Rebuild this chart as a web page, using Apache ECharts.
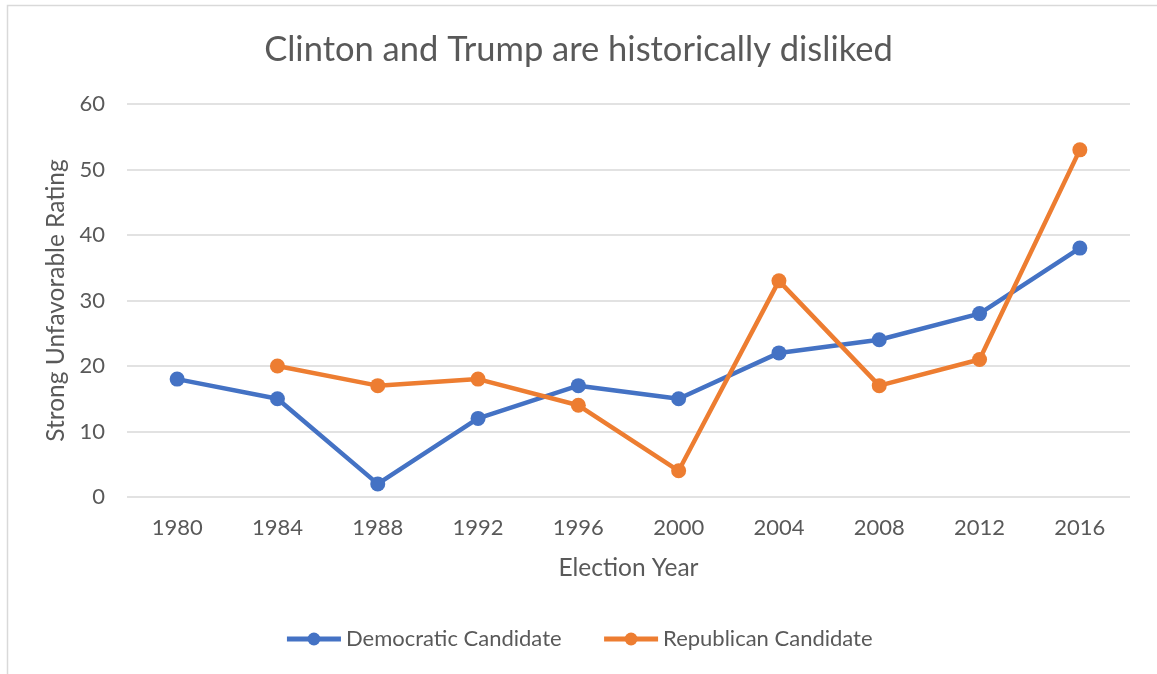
<!DOCTYPE html>
<html><head><meta charset="utf-8">
<script src="https://cdn.jsdelivr.net/npm/echarts@6/dist/echarts.min.js"></script>
<style>html,body{margin:0;padding:0;background:#fff}#c{width:1157px;height:674px}</style>
</head><body><div id="c"></div>
<script>
const years = ['1980','1984','1988','1992','1996','2000','2004','2008','2012','2016'];
const democratic = [18,15,2,12,17,15,22,24,28,38];
const republican = [null,20,17,18,14,4,33,17,21,53];
const yTicks = {min:0,max:60,interval:10};

const FONT = 'Lato, "Open Sans", sans-serif';
const TXT = '#595959';
const chart = echarts.init(document.getElementById('c'), null, {renderer:'canvas'});
chart.setOption({
  animation:false,
  textStyle:{fontFamily:FONT,color:TXT},
  graphic:[{type:'rect',shape:{x:7.5,y:5.5,width:1170,height:700},style:{fill:'none',stroke:'#D9D9D9',lineWidth:1.5},silent:true}],
  title:{text:'Clinton and Trump are historically disliked',left:'center',top:27,
    textStyle:{fontFamily:FONT,fontSize:34.5,fontWeight:'normal',color:TXT}},
  grid:{left:127,right:27,top:104,bottom:177},
  legend:{bottom:19,left:'center',itemWidth:54,itemHeight:16,itemGap:40,
    lineStyle:{width:5},
    textStyle:{fontFamily:FONT,fontSize:22,color:TXT},
    data:['Democratic Candidate','Republican Candidate']},
  xAxis:{type:'category',data:years,boundaryGap:true,
    name:'Election Year',nameLocation:'middle',nameGap:59,
    nameTextStyle:{fontFamily:FONT,fontSize:24.5,color:TXT},
    axisLine:{show:false},axisTick:{show:false},
    axisLabel:{fontFamily:FONT,fontSize:22,color:TXT,margin:20}},
  yAxis:{type:'value',min:yTicks.min,max:yTicks.max,interval:yTicks.interval,
    name:'Strong Unfavorable Rating',nameLocation:'middle',nameGap:56,
    nameTextStyle:{fontFamily:FONT,fontSize:24.5,color:TXT},
    axisLine:{show:false},axisTick:{show:false},
    axisLabel:{fontFamily:FONT,fontSize:22,color:TXT,margin:22},
    splitLine:{lineStyle:{color:'#D9D9D9',width:1.5}}},
  series:[
    {name:'Democratic Candidate',type:'line',data:democratic,symbol:'circle',symbolSize:15,
      lineStyle:{color:'#4472C4',width:4.5},itemStyle:{color:'#4472C4'}},
    {name:'Republican Candidate',type:'line',data:republican,symbol:'circle',symbolSize:15,
      lineStyle:{color:'#ED7D31',width:4.5},itemStyle:{color:'#ED7D31'}}
  ]
});
</script></body></html>
